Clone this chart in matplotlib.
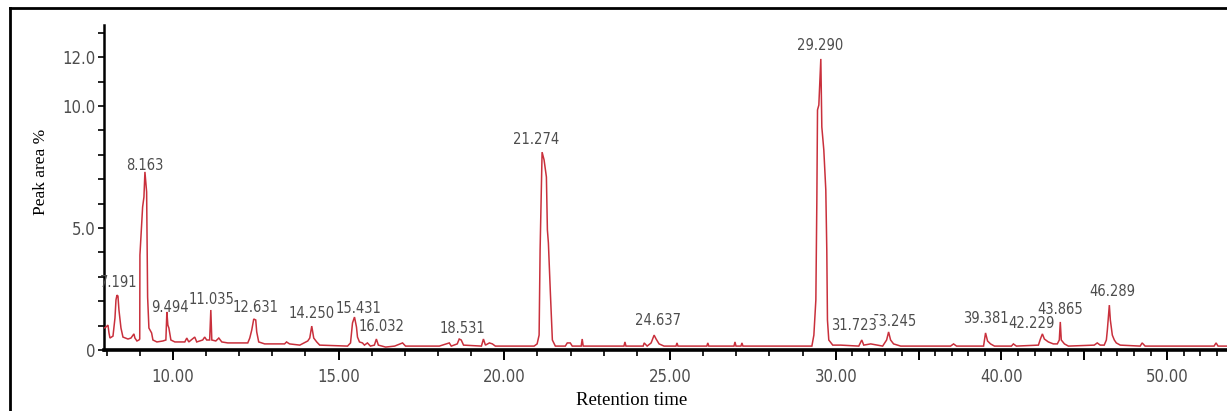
import numpy as np
import matplotlib
matplotlib.use("Agg")
import matplotlib.pyplot as plt
from matplotlib.lines import Line2D

# ---------------- data ----------------
trace_t = [7.922, 7.98, 8.042, 8.072, 8.102, 8.193, 8.253, 8.283, 8.313, 8.343, 8.373, 8.434,
           8.494, 8.645, 8.735, 8.825, 8.855, 8.916, 8.976, 9.0, 9.006, 9.087, 9.127, 9.157,
           9.208, 9.238, 9.277, 9.358, 9.398, 9.518, 9.70, 9.789, 9.819, 9.849, 9.88, 9.94,
           10.06, 10.36, 10.42, 10.48, 10.66, 10.72, 10.90, 10.96, 11.02, 11.11, 11.145, 11.175,
           11.295, 11.386, 11.476, 11.657, 12.26, 12.32, 12.38, 12.44, 12.50, 12.53, 12.59, 12.77,
           13.37, 13.43, 13.52, 13.83, 14.07, 14.13, 14.19, 14.25, 14.34, 14.43, 15.27, 15.36,
           15.42, 15.48, 15.54, 15.57, 15.63, 15.72, 15.78, 15.87, 15.96, 16.08, 16.14, 16.20,
           16.42, 16.69, 16.93, 17.02, 18.04, 18.34, 18.40, 18.58, 18.64, 18.70, 18.77, 19.31,
           19.37, 19.43, 19.55, 19.64, 19.73, 20.90, 20.99, 21.05, 21.08, 21.11, 21.14, 21.20,
           21.27, 21.30, 21.33, 21.39, 21.45, 21.54, 21.84, 21.90, 21.99, 22.05, 22.32, 22.35,
           22.38, 23.61, 23.64, 23.67, 24.19, 24.22, 24.31, 24.43, 24.52, 24.58, 24.67, 24.82,
           25.18, 25.21, 25.24, 26.11, 26.14, 26.17, 26.93, 26.96, 26.99, 27.14, 27.17, 27.20,
           28.0, 29.28, 29.34, 29.40, 29.43, 29.45, 29.49, 29.55, 29.58, 29.64, 29.70, 29.73,
           29.75, 29.79, 29.91, 30.30, 31.39, 31.57, 31.69, 32.11, 32.83, 33.07, 33.19, 33.31,
           33.49, 33.92, 36.93, 37.11, 37.29, 38.92, 39.04, 39.16, 39.34, 39.58, 40.60, 40.72,
           40.90, 42.23, 42.35, 42.47, 42.59, 42.83, 43.13, 43.37, 43.49, 43.55, 43.61, 43.80,
           44.04, 45.60, 45.78, 45.96, 46.20, 46.33, 46.39, 46.51, 46.57, 46.69, 46.81, 46.93,
           47.17, 48.37, 48.49, 48.67, 52.83, 52.95, 53.07, 53.61]
trace_y = [0.90, 0.94, 1.02, 0.70, 0.49, 0.57, 1.31, 2.05, 2.25, 2.21, 1.64, 0.90,
           0.53, 0.45, 0.49, 0.66, 0.49, 0.37, 0.41, 0.45, 3.89, 5.86, 6.27, 7.30,
           6.48, 2.17, 0.90, 0.70, 0.41, 0.33, 0.37, 0.41, 1.56, 1.02, 0.90, 0.41,
           0.33, 0.33, 0.49, 0.33, 0.53, 0.33, 0.41, 0.53, 0.41, 0.41, 1.64, 0.41,
           0.37, 0.49, 0.33, 0.29, 0.29, 0.49, 0.82, 1.27, 1.23, 0.74, 0.33, 0.25,
           0.25, 0.33, 0.25, 0.20, 0.37, 0.49, 0.98, 0.49, 0.33, 0.20, 0.16, 0.29,
           1.11, 1.35, 0.94, 0.53, 0.33, 0.29, 0.20, 0.29, 0.16, 0.20, 0.45, 0.20,
           0.12, 0.16, 0.29, 0.16, 0.16, 0.29, 0.16, 0.25, 0.45, 0.41, 0.20, 0.16,
           0.45, 0.20, 0.29, 0.25, 0.16, 0.16, 0.25, 0.61, 4.10, 6.02, 8.11, 7.79,
           7.09, 4.92, 4.39, 2.34, 0.41, 0.16, 0.16, 0.29, 0.29, 0.16, 0.16, 0.45,
           0.16, 0.16, 0.33, 0.16, 0.16, 0.29, 0.16, 0.29, 0.61, 0.45, 0.25, 0.16,
           0.16, 0.29, 0.16, 0.16, 0.29, 0.16, 0.16, 0.33, 0.16, 0.16, 0.29, 0.16,
           0.16, 0.16, 0.61, 2.05, 6.15, 9.84, 10.04, 11.93, 9.14, 8.20, 6.56, 4.10,
           1.23, 0.41, 0.20, 0.20, 0.16, 0.41, 0.20, 0.25, 0.16, 0.41, 0.74, 0.41,
           0.25, 0.16, 0.16, 0.25, 0.16, 0.16, 0.70, 0.37, 0.25, 0.16, 0.16, 0.25,
           0.16, 0.20, 0.45, 0.66, 0.45, 0.33, 0.25, 0.25, 0.41, 1.15, 0.41, 0.25,
           0.16, 0.20, 0.29, 0.20, 0.20, 0.41, 0.82, 1.84, 1.23, 0.61, 0.41, 0.29,
           0.20, 0.16, 0.29, 0.16, 0.16, 0.29, 0.16, 0.16]

peak_labels = ["7.191", "8.163", "9.494", "11.035", "12.631", "14.250", "15.431", "16.032",
               "18.531", "21.274", "24.637", "29.290", "31.723", "\u00af3.245", "39.381",
               "42.229", "43.865", "46.289"]
label_t = [8.373, 9.157, 9.91, 11.175, 12.50, 14.19, 15.60, 16.30,
           18.73, 20.96, 24.64, 29.52, 31.08, 33.55, 39.04,
           41.81, 43.55, 46.69]
label_y = [2.75, 7.58, 1.76, 2.09, 1.76, 1.48, 1.72, 0.98,
           0.90, 8.61, 1.19, 12.50, 1.02, 1.15, 1.31,
           1.07, 1.68, 2.38]

xtick_values = [10, 15, 20, 25, 30, 35, 40, 45, 50]
xtick_labels = ["10.00", "15.00", "20.00", "25.00", "30.00", "", "40.00", "", "50.00"]
xminor_values = [v for v in range(8, 54) if v not in xtick_values]
ytick_values = [0, 5, 10, 12]
ytick_labels = ["0", "5.0", "10.0", "12.0"]
yminor_values = [v for v in range(1, 14) if v not in ytick_values]

x_label = "Retention time"
y_label = "Peak area %"

# ---------------- styling ----------------
SERIF = ["Liberation Serif", "DejaVu Serif"]
TRACE = "#c9303c"
GRAY = "#4d4d4d"

W, H = 1227, 411


def fwd(t):
    t = np.asarray(t, dtype=float)
    return np.where(t <= 30, t, 30 + (t - 30) / 2.0)


def inv(s):
    s = np.asarray(s, dtype=float)
    return np.where(s <= 30, s, 30 + 2.0 * (s - 30))


fig = plt.figure(figsize=(W / 100, H / 100), dpi=100)
ax = fig.add_axes([104 / W, 1 - 350 / H, 1 - 104 / W, (350 - 25) / H])
ax.set_xscale("function", functions=(fwd, inv))

ax.plot(trace_t, trace_y, color=TRACE, lw=1.1, solid_joinstyle="miter", zorder=3)

ax.set_xlim(7.922, 53.61)
ax.set_ylim(0, 13.32)

for sp in ("top", "right"):
    ax.spines[sp].set_visible(False)
ax.spines["left"].set_linewidth(1.8)
ax.spines["bottom"].set_linewidth(2.6)
ax.spines["bottom"].set_zorder(2)

ax.set_xticks(xtick_values)
ax.set_xticklabels(xtick_labels)
ax.set_xticks(xminor_values, minor=True)
ax.set_yticks(ytick_values)
ax.set_yticklabels(ytick_labels)
ax.set_yticks(yminor_values, minor=True)

ax.tick_params(axis="x", which="major", length=7, width=1.4, direction="out",
               pad=6, labelsize=12, labelcolor=GRAY)
ax.tick_params(axis="x", which="minor", length=4.5, width=1.2, direction="out")
ax.tick_params(axis="y", which="both", length=4, width=1.2, direction="out",
               pad=2, labelsize=12, labelcolor=GRAY)
for lab in ax.get_xticklabels() + ax.get_yticklabels():
    lab.set_family("DejaVu Sans")
    lab.set_stretch("condensed")

for txt, tx, ty in zip(peak_labels, label_t, label_y):
    ax.text(tx, ty, txt, ha="center", va="center", fontsize=10.5,
            color=GRAY, family="DejaVu Sans", stretch="condensed", zorder=4)

fig.text(41 / W, 1 - 172 / H, y_label, rotation=90, ha="center", va="center",
         fontsize=12.5, family=SERIF, color="black")
fig.text(632 / W, 1 - 400 / H, x_label, ha="center", va="center",
         fontsize=13.5, family=SERIF, color="black")

# outer frame (left and top border)
fig.add_artist(Line2D([10 / W, 10 / W], [0, 1 - 8 / H], transform=fig.transFigure,
                      color="black", lw=2))
fig.add_artist(Line2D([10 / W, 1], [1 - 8 / H, 1 - 8 / H], transform=fig.transFigure,
                      color="black", lw=2))

fig.savefig("out.png", dpi=100)
